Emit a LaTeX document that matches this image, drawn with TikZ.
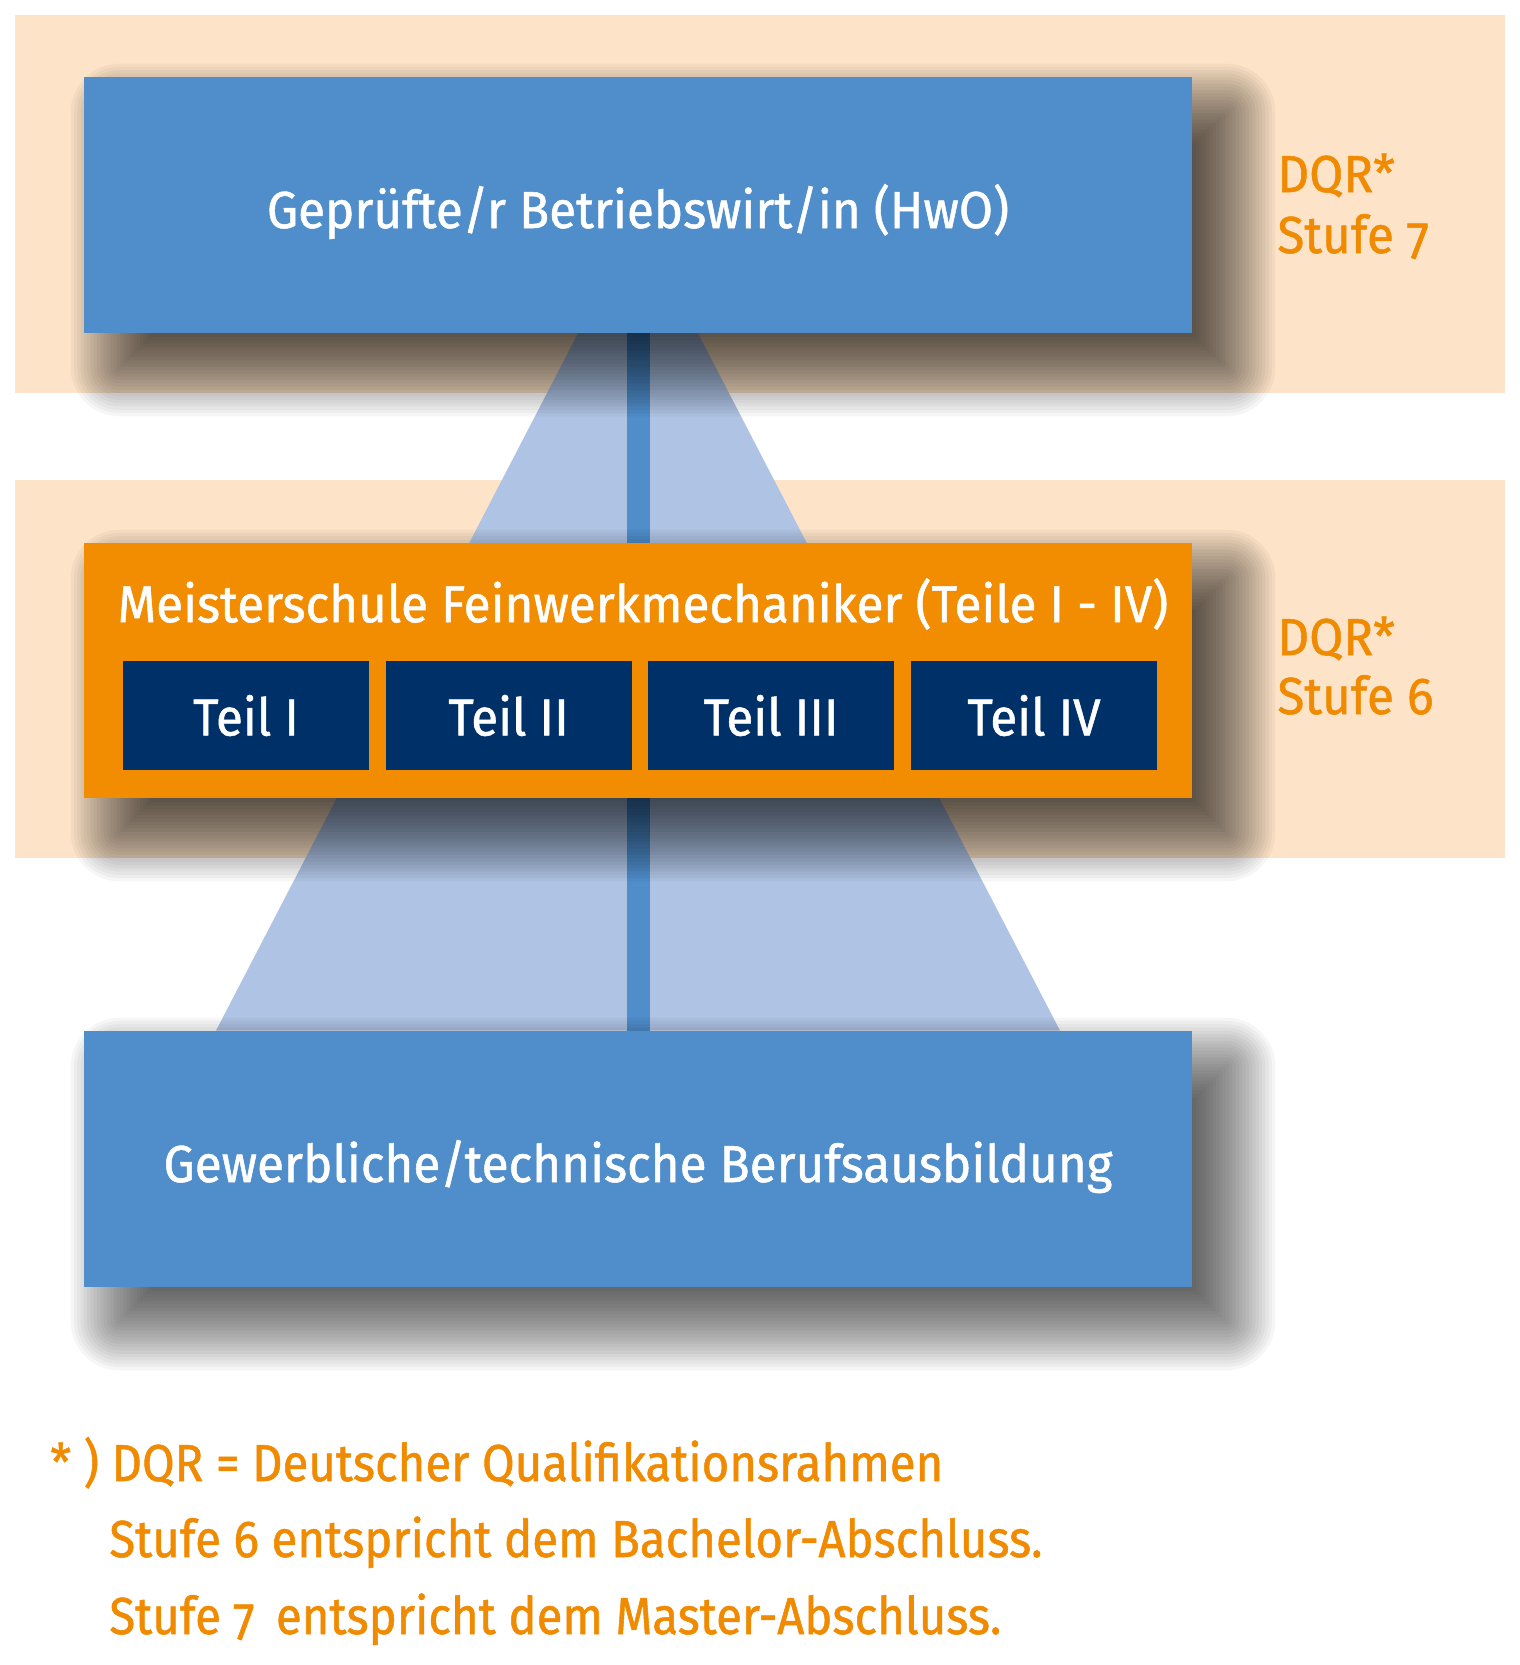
\documentclass[tikz,border=0pt]{standalone}
\usepackage{fontspec}
\usetikzlibrary{calc}
\newfontfamily\dqrfont{Fira Sans}[Numbers=OldStyle,FakeBold=1,FakeStretch=0.95]
\newfontfamily\fussfont{Fira Sans}[Numbers=OldStyle,FakeBold=1,FakeStretch=0.91]

\definecolor{stufebg}{HTML}{FDE4C8}
\definecolor{boxblau}{HTML}{4F8ECB}
\definecolor{hellblau}{HTML}{AFC4E5}
\definecolor{meisterorange}{HTML}{F28C00}
\definecolor{teilblau}{HTML}{003068}
\definecolor{dqrorange}{HTML}{F08A00}

\pgfdeclarelayer{background}
\pgfsetlayers{background,main}

% soft drop shadow behind a node: nested rectangles of low opacity
\newcommand{\schatten}[1]{%
  \foreach \i in {0,...,29}{%
    \pgfmathsetmacro{\e}{24-\i*48/29}%
    \pgfmathsetmacro{\rc}{max(\e,0)+0.5}%
    \pgfmathsetmacro{\ax}{17.5-\e}%
    \pgfmathsetmacro{\ay}{-17.5-\e}%
    \pgfmathsetmacro{\bx}{17.5+\e}%
    \pgfmathsetmacro{\by}{-17.5+\e}%
    \fill[black, opacity=0.036, rounded corners=\rc pt]
      ([xshift=\ax pt, yshift=\ay pt]#1.south west) rectangle
      ([xshift=\bx pt, yshift=\by pt]#1.north east);
  }}

\tikzset{
  textfont/.style={font=\dqrfont\fontsize{26}{30}\selectfont},
  hauptbox/.style={fill=#1, text=white, textfont, inner sep=0pt,
    minimum width=554pt, minimum height=128pt,
    text height=23pt, text depth=0pt},
  teilbox/.style={fill=teilblau, text=white, textfont, inner sep=0pt,
    minimum width=123pt, minimum height=54.5pt},
  dqrtext/.style={text=dqrorange, textfont, inner sep=0pt, anchor=base west},
  fusstext/.style={dqrtext, font=\fussfont\fontsize{26}{30}\selectfont}
}

\begin{document}
\begin{tikzpicture}[x=0.5pt,y=-0.5pt]
  \useasboundingbox (0,0) rectangle (1520,1665);

  % boxes
  \node[hauptbox=boxblau] (hwo) at (638,205) {Geprüfte/r Betriebswirt/in (HwO)};
  \node[hauptbox=meisterorange, minimum height=127.5pt] (meister) at (638,670.5) {};
  \node[hauptbox=boxblau] (ausbildung) at (638,1159) {Gewerbliche/technische Berufsausbildung};

  \node[text=white, textfont, inner sep=0pt] (titel) at (643,604) {Meisterschule Feinwerkmechaniker (Teile I - IV)};
  \foreach \nr/\x/\name in {1/246/I, 2/508.5/II, 3/771/III, 4/1034/IV}
    \node[teilbox] (teil\nr) at (\x,715.5) {Teil \name};

  % DQR levels
  \node[dqrtext] (dqr7) at (1277,192) {DQR*};
  \node[dqrtext] (stufe7) at (1277,253) {Stufe 7};
  \node[dqrtext] (dqr6) at (1277,655) {DQR*};
  \node[dqrtext] (stufe6) at (1277,714) {Stufe 6};

  % footnote
  \node[fusstext] (fn1) at (50,1481) {* ) DQR = Deutscher Qualifikationsrahmen};
  \node[fusstext] (fn2) at (109,1557) {Stufe 6 entspricht dem Bachelor-Abschluss.};
  \node[fusstext] (fn3) at (109,1634) {Stufe 7 \,entspricht dem Master-Abschluss.};

  \begin{pgfonlayer}{background}
    \fill[stufebg] (15,15) rectangle (1505,393);
    \fill[stufebg] (15,480) rectangle (1505,858);
    \fill[hellblau] ($(hwo.south)+(-60,0)$) -- ($(hwo.south)+(60,0)$)
      -- ($(ausbildung.north)+(422,0)$) -- ($(ausbildung.north)+(-422,0)$) -- cycle;
    \draw[boxblau, line width=11.5pt] (hwo.south) -- (ausbildung.north);
    \schatten{hwo}
    \schatten{meister}
    \schatten{ausbildung}
  \end{pgfonlayer}
\end{tikzpicture}
\end{document}
